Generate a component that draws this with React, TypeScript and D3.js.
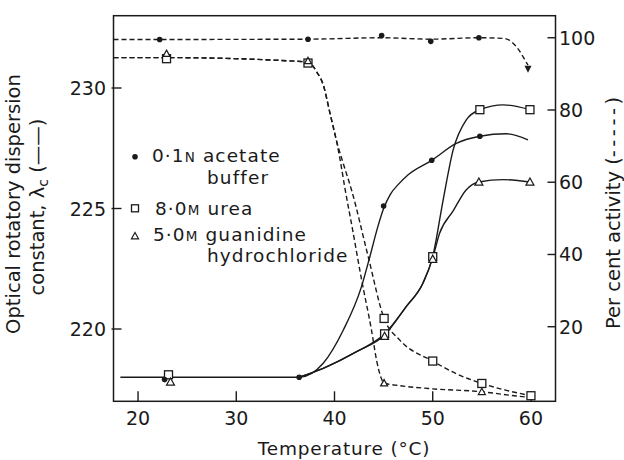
import React from "react";
import * as d3 from "d3";

type Pt = [number, number];

// Axis ticks
const tempTicks = [20, 30, 40, 50, 60];
const lambdaTicks = [220, 225, 230];
const activityTicks = [20, 40, 60, 80, 100];

// Optical rotatory dispersion constant (λc) measurements: [temperature, λc]
const acetateOrd: Pt[] = [[22.7, 217.9], [36.4, 218.0], [45.0, 225.1], [49.9, 227.0], [54.8, 228.0]];
const ureaOrd: Pt[] = [[23.1, 218.1], [45.1, 219.8], [50.0, 223.0], [54.8, 229.1], [59.9, 229.1]];
const guanidineOrd: Pt[] = [[23.3, 217.8], [45.1, 219.7], [50.0, 222.9], [54.7, 226.1], [59.9, 226.1]];

// Per cent activity measurements: [temperature, %]
const acetateAct: Pt[] = [[22.2, 99.5], [37.3, 99.6], [44.8, 100.6], [49.8, 99.0], [54.7, 100.0]];
const acetateActEnd: Pt = [59.7, 91.3];
const ureaAct: Pt[] = [[22.9, 94.2], [37.3, 93.0], [45.05, 22.3], [50.0, 10.5], [55.0, 4.3], [60.0, 0.9]];
const guanidineAct: Pt[] = [[22.9, 95.6], [37.3, 93.6], [45.05, 4.4], [55.0, 2.0]];

// Hand-fitted curves drawn through the measurements
const acetateOrdCurve: Pt[] = [[18.2, 218.0], [22.7, 218.0], [36.4, 218.0], [38.85, 218.58], [40.9, 219.96], [42.75, 221.76], [43.6, 223.0], [44.45, 224.3], [45.0, 225.0], [45.7, 225.6], [46.5, 226.0], [47.5, 226.4], [49.9, 227.0], [52.4, 227.7], [54.8, 228.0], [57.5, 228.1], [59.7, 227.85]];
const ureaOrdCurve: Pt[] = [[36.4, 218.0], [38.85, 218.37], [42.25, 219.06], [45.1, 219.8], [47.3, 220.93], [49.0, 221.9], [50.0, 223.0], [51.06, 225.35], [52.08, 227.43], [53.4, 228.67], [54.8, 229.1], [57.2, 229.3], [59.9, 229.1]];
const guanidineOrdCurve: Pt[] = [[36.4, 218.0], [38.85, 218.37], [42.25, 219.06], [45.1, 219.75], [47.3, 220.93], [49.0, 221.9], [50.0, 222.95], [50.7, 223.97], [52.08, 224.9], [53.4, 225.77], [54.7, 226.1], [57.2, 226.2], [59.9, 226.1]];

const acetateActCurve: Pt[] = [[17.5, 99.5], [37.3, 99.6], [44.8, 100.0], [49.8, 99.6], [54.7, 100.0], [57.3, 99.8], [58.8, 96.5], [59.5, 93.3], [59.7, 92.4]];
const ureaActCurve: Pt[] = [[17.5, 94.5], [22.9, 94.5], [37.3, 93.3], [38.2, 90.5], [38.85, 87.0], [39.55, 79.0], [40.2, 71.5], [40.8, 66.0], [41.74, 57.8], [43.43, 39.4], [45.05, 22.3], [46.65, 16.3], [50.0, 10.5], [52.4, 7.0], [55.0, 4.3], [57.5, 2.4], [60.0, 0.9]];
const guanidineActCurve: Pt[] = [[17.5, 94.5], [22.9, 94.5], [37.3, 93.3], [38.2, 90.5], [38.85, 87.0], [39.55, 79.0], [40.2, 71.5], [40.65, 65.0], [41.05, 58.5], [41.8, 47.5], [42.76, 33.0], [43.77, 19.0], [44.3, 10.5], [44.75, 5.8], [45.05, 4.4], [46.65, 3.7], [50.0, 2.8], [55.0, 2.0], [58.0, 1.0], [60.0, 0.4]];

const FONT = "DejaVu Sans";
const INK = "#1a1a1a";

export default function App() {
  const x = d3.scaleLinear().domain([17.5, 62.5]).range([113.5, 555.5]);
  const yL = d3.scaleLinear().domain([217, 233]).range([401.3, 15.7]);
  const yR = d3.scaleLinear().domain([-0.64, 106.1]).range([401.3, 15.7]);

  const ordLine = d3.line<Pt>().x((d) => x(d[0])).y((d) => yL(d[1])).curve(d3.curveMonotoneX);
  const actLine = d3.line<Pt>().x((d) => x(d[0])).y((d) => yR(d[1])).curve(d3.curveMonotoneX);

  const [x0, x1] = x.range();
  const [yb, yt] = yL.range();

  const dot = (cx: number, cy: number, key: string) => <circle key={key} cx={cx} cy={cy} r={2.8} fill={INK} />;
  const square = (cx: number, cy: number, key: string, s = 8) => (
    <rect key={key} x={cx - s / 2} y={cy - s / 2} width={s} height={s} fill="#fff" stroke={INK} strokeWidth={1.3} />
  );
  const tri = (cx: number, cy: number, key: string, s = 8) => (
    <path key={key} d={`M${cx},${cy - s * 0.5} L${cx + s / 2},${cy + s * 0.4} L${cx - s / 2},${cy + s * 0.4} Z`} fill="#fff" stroke={INK} strokeWidth={1.2} />
  );

  const dash = "5,3";
  const ex = acetateActEnd;

  return (
    <svg width={624} height={460} style={{ position: "absolute", left: 0, top: 0, background: "#fff" }} fontFamily={FONT}>
      <rect width={624} height={460} fill="#fff" />

      {/* frame */}
      <rect x={x0} y={yt} width={x1 - x0} height={yb - yt} fill="none" stroke={INK} strokeWidth={1.5} />

      {/* ticks and tick labels */}
      {tempTicks.map((t) => (
        <g key={"xt" + t}>
          <line x1={x(t)} x2={x(t)} y1={yb} y2={yb - 10} stroke={INK} strokeWidth={1.4} />
          <text x={x(t)} y={425} textAnchor="middle" fontSize={19} fill={INK}>{t}</text>
        </g>
      ))}
      {lambdaTicks.map((t) => (
        <g key={"yl" + t}>
          <line x1={x0 - 2} x2={x0 + 8} y1={yL(t)} y2={yL(t)} stroke={INK} strokeWidth={1.4} />
          <text x={106} y={yL(t) + 7} textAnchor="end" fontSize={19} fill={INK}>{t}</text>
        </g>
      ))}
      {activityTicks.map((t) => (
        <g key={"yr" + t}>
          <line x1={x1 - 8} x2={x1} y1={yR(t)} y2={yR(t)} stroke={INK} strokeWidth={1.4} />
          <text x={559} y={yR(t) + 7} textAnchor="start" fontSize={19} fill={INK}>{t}</text>
        </g>
      ))}

      {/* axis titles */}
      <text x={344} y={455} textAnchor="middle" fontSize={18.5} letterSpacing={0.8} fill={INK}>Temperature (°C)</text>
      <text transform="translate(20,204) rotate(-90)" textAnchor="middle" fontSize={19.5} fill={INK}>Optical rotatory dispersion</text>
      <text transform="translate(43.5,207) rotate(-90)" textAnchor="middle" fontSize={19.5} fill={INK}>
        constant, λ<tspan dy={4} fontSize={14}>c</tspan><tspan dy={-4}> (——)</tspan>
      </text>
      <text transform="translate(620,213) rotate(-90)" textAnchor="middle" fontSize={19.5} fill={INK}>
        Per cent activity (<tspan letterSpacing={3.5}>-----</tspan>)
      </text>

      {/* fitted curves */}
      <g fill="none" stroke={INK} strokeWidth={1.4}>
        <path d={ordLine(acetateOrdCurve) ?? ""} />
        <path d={ordLine(ureaOrdCurve) ?? ""} />
        <path d={ordLine(guanidineOrdCurve) ?? ""} />
      </g>
      <g fill="none" stroke={INK} strokeWidth={1.4} strokeDasharray={dash}>
        <path d={actLine(acetateActCurve) ?? ""} />
        <path d={actLine(ureaActCurve) ?? ""} />
        <path d={actLine(guanidineActCurve) ?? ""} />
      </g>

      {/* end arrow on buffer activity */}
      <path d={`M${x(ex[0]) - 3.5},${yR(ex[1]) - 3.5} L${x(ex[0]) + 3.5},${yR(ex[1]) - 3.5} L${x(ex[0])},${yR(ex[1]) + 3.5} Z`} fill={INK} />

      {/* measured points */}
      {ureaOrd.map((d, i) => square(x(d[0]), yL(d[1]), "uo" + i))}
      {guanidineOrd.map((d, i) => tri(x(d[0]), yL(d[1]), "go" + i))}
      {acetateOrd.map((d, i) => dot(x(d[0]), yL(d[1]), "ao" + i))}
      {ureaAct.map((d, i) => square(x(d[0]), yR(d[1]), "ua" + i))}
      {guanidineAct.map((d, i) => tri(x(d[0]), yR(d[1]), "ga" + i, 7))}
      {acetateAct.map((d, i) => dot(x(d[0]), yR(d[1]), "aa" + i))}

      {/* legend */}
      <g fill={INK} fontSize={18.5} letterSpacing={1.1}>
        {dot(135, 156.7, "ld")}
        <text x={152} y={162}>0·1<tspan fontSize={13.5}>N</tspan> acetate</text>
        <text x={207} y={184}>buffer</text>
        {square(135, 208.3, "ls", 7)}
        <text x={155} y={215}>8·0<tspan fontSize={13.5}>M</tspan> urea</text>
        {tri(135, 236, "lt", 7)}
        <text x={153} y={240.5}>5·0<tspan fontSize={13.5}>M</tspan> guanidine</text>
        <text x={207} y={262}>hydrochloride</text>
      </g>
    </svg>
  );
}
